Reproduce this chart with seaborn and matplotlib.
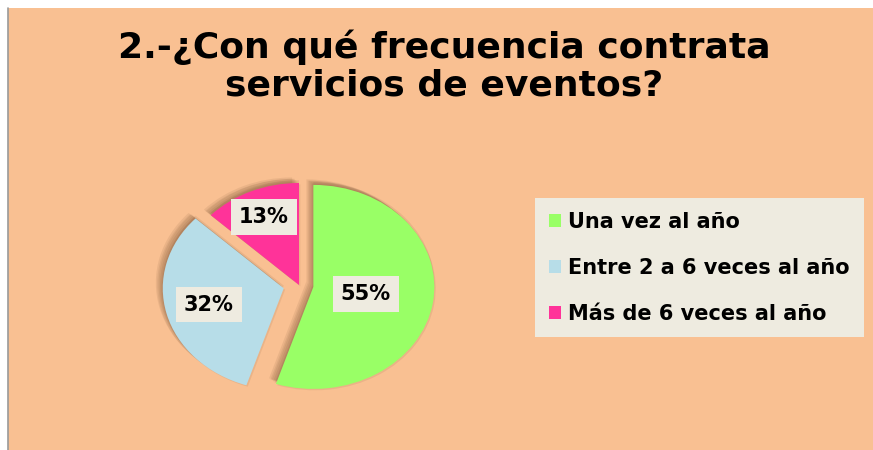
import numpy as np
import matplotlib
matplotlib.use("Agg")
import matplotlib.pyplot as plt
import matplotlib.patheffects as pe
from matplotlib.patches import Patch, Rectangle
import seaborn as sns

# data
categories = ["Una vez al año", "Entre 2 a 6 veces al año", "Más de 6 veces al año"]
shares = [55, 32, 13]
pct_labels = ["55%", "32%", "13%"]
title = "2.-¿Con qué frecuencia contrata\nservicios de eventos?"

colors = ["#99FF66", "#B7DDE8", "#FF3399"]
explode = [0.12, 0.13, 0.0]
label_dist = [0.44, 0.64, 0.73]
bg = "#F9C092"
box = "#EEEBE0"

sns.set_style("white")
plt.rcParams["font.family"] = ["DejaVu Sans"]
plt.rcParams["text.color"] = "black"

W, H = 873, 450
fig = plt.figure(figsize=(W / 100, H / 100), dpi=100)
fig.patch.set_facecolor("white")

# peach chart area with a thin grey rule at the left
fig.patches.append(Rectangle((8 / W, 0), 1, (H - 8) / H, transform=fig.transFigure,
                             facecolor=bg, edgecolor="none", zorder=-2))
fig.add_artist(plt.Line2D([7.5 / W, 7.5 / W], [0, (H - 8) / H], color="#9a9a9a",
                          lw=1.2, transform=fig.transFigure, zorder=-1))

fig.text(444 / W, (H - 66) / H, title, ha="center", va="center", fontsize=26,
         fontweight="bold", linespacing=1.1, color="black")

# pie axes, stretched so the pie becomes an ellipse (rx=121px, ry=102px)
cx, cy, rx, ry, span = 299, 285, 121, 102, 1.4
ax = fig.add_axes([(cx - span * rx) / W, (H - cy - span * ry) / H,
                   2 * span * rx / W, 2 * span * ry / H])
ax.patch.set_alpha(0)
wedges, _ = ax.pie(shares, colors=colors, explode=explode, startangle=90,
                   counterclock=False, wedgeprops=dict(edgecolor="none"))

# soft-ish drop shadow: a few faint offset copies
shadow = [pe.SimplePatchShadow(offset=o, shadow_rgbFace="#5a3a20", alpha=0.09)
          for o in [(-5, 4), (-4, 3), (-3, 3), (-2, 2), (-1, 1), (1, -1), (0, 2)]]
shadow.append(pe.Normal())
for w in wedges:
    w.set_path_effects(shadow)

for w, lab, d in zip(wedges, pct_labels, label_dist):
    ang = np.deg2rad((w.theta1 + w.theta2) / 2)
    x = w.center[0] + d * w.r * np.cos(ang)
    y = w.center[1] + d * w.r * np.sin(ang)
    ax.text(x, y, lab, ha="center", va="center", fontsize=15, fontweight="bold",
            color="black",
            bbox=dict(boxstyle="square,pad=0.38", facecolor=box, edgecolor="none"))

ax.set_aspect("auto")
ax.set_xlim(-span, span)
ax.set_ylim(-span, span)
ax.axis("off")

handles = [Patch(facecolor=c, edgecolor="none") for c in colors]
leg = fig.legend(handles, categories, loc="upper left",
                 bbox_to_anchor=(535 / W, (H - 198) / H),
                 prop=dict(weight="bold", size=15),
                 frameon=True, fancybox=False, facecolor=box, edgecolor="none",
                 framealpha=1, borderpad=0.65, labelspacing=1.25,
                 handlelength=0.6, handleheight=0.6, handletextpad=0.35,
                 borderaxespad=0)
leg.get_frame().set_linewidth(0)
for t in leg.get_texts():
    t.set_color("black")

fig.savefig("out.png", dpi=100, facecolor=fig.get_facecolor())
